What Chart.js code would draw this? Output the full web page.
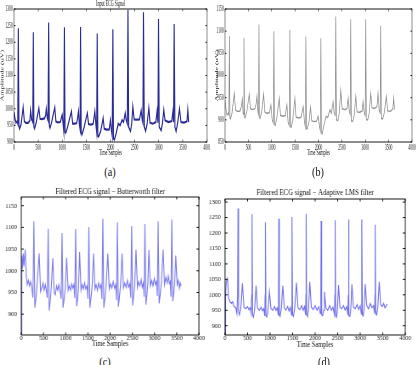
<!DOCTYPE html>
<html>
<head>
<meta charset="utf-8">
<script src="https://cdn.jsdelivr.net/npm/chart.js@4.4.0/dist/chart.umd.min.js"></script>
<style>
    body { margin: 0; width: 418px; height: 365px; background: #fff; position: relative; overflow: hidden; font-family: "Liberation Serif", serif; }
    canvas { position: absolute; }
    .caption { position: absolute; font-size: 12px; color: #111; white-space: nowrap; transform: translateX(-50%) scaleX(0.85); }
</style>
</head>
<body>
<canvas id="chartA" width="420" height="160" style="left:0;top:0;width:210px;height:160px"></canvas>
<canvas id="chartB" width="420" height="160" style="left:208px;top:0;width:210px;height:160px"></canvas>
<canvas id="chartC" width="247" height="170" style="left:0;top:180px;width:210px;height:170px"></canvas>
<canvas id="chartD" width="247" height="170" style="left:208px;top:180px;width:210px;height:170px"></canvas>
<div class="caption" style="left:110px;top:165px">(a)</div>
<div class="caption" style="left:318px;top:165px">(b)</div>
<div class="caption" style="left:105px;top:355px">(c)</div>
<div class="caption" style="left:324px;top:355px">(d)</div>
<script>
// (a) input ECG signal
const aTime = [0, 18, 40, 62, 78,
    90, 103, 115, 145, 190, 215, 250, 300, 330, 345, 365, 388,
    400, 412, 426, 458, 515, 540, 580, 630, 655, 670, 690, 706,
    718, 731, 745, 778, 845, 868, 900, 960, 985, 1000, 1020, 1033,
    1045, 1058, 1072, 1110, 1190, 1215, 1260, 1300, 1320, 1335, 1355, 1370,
    1380, 1393, 1408, 1445, 1520, 1545, 1590, 1640, 1660, 1675, 1698, 1713,
    1725, 1738, 1754, 1795, 1848, 1870, 1920, 1975, 1998, 2018, 2035,
    2049, 2062, 2082, 2115, 2160, 2200, 2240, 2270, 2305, 2325, 2348,
    2362, 2376, 2415, 2440, 2463, 2490, 2540, 2600, 2636, 2658, 2672,
    2684, 2700, 2727, 2760, 2795, 2820, 2880, 2940, 2965, 2983,
    2995, 3010, 3050, 3075, 3105, 3130, 3200, 3270, 3292, 3308,
    3319, 3335, 3360, 3390, 3430, 3460, 3520, 3585, 3603, 3620];
const aAmp = [990, 972, 958, 962, 955,
    1242, 948, 940, 952, 1005, 962, 957, 958, 965, 995, 968, 960,
    1230, 946, 940, 957, 1002, 970, 969, 971, 980, 1000, 972, 965,
    1259, 950, 942, 958, 1004, 962, 959, 960, 975, 982, 950, 932,
    1245, 930, 927, 945, 992, 955, 955, 957, 975, 992, 952, 938,
    1246, 928, 922, 940, 987, 954, 952, 955, 975, 992, 950, 930,
    1226, 918, 916, 932, 972, 940, 937, 938, 965, 935, 918,
    1239, 910, 907, 925, 955, 950, 966, 960, 987, 966, 955,
    1298, 945, 932, 955, 1007, 968, 967, 968, 995, 966, 958,
    1290, 946, 933, 955, 1003, 958, 955, 960, 993, 958,
    1270, 945, 935, 955, 997, 965, 960, 963, 990, 960,
    1255, 945, 932, 955, 1000, 960, 958, 962, 997, 960];

// (b) same recording, second plot
const bTime = [0, 15, 40, 70, 82,
    93, 105, 118, 150, 199, 225, 260, 320, 350, 370, 388, 398,
    406, 418, 432, 465, 520, 545, 590, 640, 665, 683, 703, 716,
    726, 738, 752, 785, 826, 850, 890, 950, 970, 982, 1010, 1033,
    1046, 1058, 1075, 1110, 1160, 1185, 1240, 1290, 1310, 1324, 1350, 1375,
    1388, 1400, 1418, 1450, 1495, 1520, 1580, 1630, 1655, 1673, 1700, 1718,
    1730, 1743, 1760, 1795, 1830, 1855, 1900, 1960, 1980, 1993, 2020, 2038,
    2050, 2063, 2080, 2110, 2160, 2200, 2245, 2275, 2313, 2335, 2358,
    2370, 2383, 2415, 2445, 2477, 2505, 2560, 2610, 2633, 2660, 2678,
    2690, 2703, 2735, 2765, 2797, 2825, 2885, 2935, 2953, 2980, 2998,
    3010, 3023, 3055, 3085, 3117, 3145, 3200, 3250, 3274, 3300, 3320,
    3331, 3344, 3372, 3405, 3452, 3480, 3540, 3590, 3608, 3625];
const bAmp = [945, 930, 911, 915, 912,
    1089, 904, 902, 915, 960, 922, 919, 920, 930, 947, 915, 912,
    1085, 906, 905, 918, 958, 925, 923, 925, 935, 953, 918, 912,
    1115, 904, 903, 918, 958, 918, 915, 916, 928, 934, 900, 893,
    1100, 890, 887, 905, 949, 910, 908, 910, 925, 934, 895, 887,
    1103, 885, 883, 900, 949, 906, 904, 906, 922, 930, 895, 884,
    1088, 880, 880, 895, 929, 898, 896, 897, 905, 908, 885, 875,
    1084, 870, 868, 885, 908, 905, 923, 915, 941, 915, 910,
    1133, 900, 898, 915, 967, 925, 923, 925, 949, 918, 912,
    1127, 897, 897, 912, 953, 918, 917, 920, 941, 915, 910,
    1127, 900, 900, 915, 960, 927, 926, 930, 960, 920, 915,
    1112, 903, 902, 915, 953, 920, 919, 925, 949, 923];

// (c) Butterworth filtered
const cTime = [0, 12, 25, 45, 60, 88, 115, 135, 160, 185, 210, 235, 262,
    284, 305, 330, 355, 403, 435, 460, 490, 515, 540, 565, 585,
    605, 628, 652, 675, 709, 740, 765, 795, 820, 845, 875, 898,
    918, 940, 965, 990, 1022, 1055, 1080, 1110, 1135, 1160, 1185, 1205,
    1224, 1246, 1270, 1290, 1313, 1345, 1370, 1400, 1425, 1450, 1480, 1502,
    1522, 1545, 1570, 1595, 1627, 1660, 1685, 1715, 1740, 1770, 1795, 1816,
    1836, 1858, 1885, 1910, 1948, 1980, 2010, 2040, 2070, 2100, 2125, 2145,
    2164, 2186, 2210, 2235, 2269, 2300, 2330, 2360, 2390, 2415, 2445, 2465,
    2485, 2507, 2530, 2555, 2582, 2615, 2640, 2670, 2700, 2725, 2750, 2765,
    2784, 2806, 2830, 2850, 2873, 2905, 2935, 2965, 2995, 3020, 3045, 3063,
    3082, 3104, 3128, 3155, 3194, 3225, 3255, 3285, 3310, 3335, 3355, 3370,
    3388, 3410, 3432, 3455, 3478, 3510, 3535, 3560, 3580, 3600];
const cAmp = [855, 1035, 1005, 1040, 1010, 1049, 985, 968, 978, 965, 975, 962, 938,
    1114, 915, 935, 968, 1040, 952, 960, 972, 955, 968, 955, 938,
    1097, 908, 930, 962, 1029, 950, 945, 965, 955, 968, 952, 935,
    1087, 915, 935, 960, 1030, 955, 965, 955, 970, 960, 968, 937,
    1096, 918, 935, 965, 1043, 955, 968, 958, 972, 958, 965, 935,
    1101, 915, 938, 965, 1040, 958, 968, 955, 972, 960, 968, 935,
    1120, 915, 938, 965, 1040, 958, 970, 960, 975, 960, 968, 932,
    1112, 917, 940, 968, 1040, 960, 972, 962, 978, 962, 970, 938,
    1103, 920, 942, 970, 1049, 962, 975, 965, 980, 962, 972, 940,
    1108, 922, 945, 972, 1048, 965, 978, 965, 982, 968, 975, 942,
    1114, 925, 945, 975, 1049, 968, 985, 972, 988, 970, 975, 940,
    1118, 930, 948, 975, 1035, 968, 978, 960, 972, 965];

// (d) adaptive LMS filtered
const dTime = [0, 10, 25, 55, 80, 110, 140, 170, 200, 240, 262, 278,
    289, 300, 320, 350, 385, 420, 460, 500, 530, 560, 580, 592,
    600, 612, 630, 655, 689, 720, 760, 800, 830, 860, 882, 890,
    896, 908, 925, 950, 985, 1020, 1060, 1100, 1130, 1160, 1180, 1188,
    1193, 1205, 1222, 1250, 1281, 1315, 1350, 1390, 1420, 1450, 1475, 1483,
    1489, 1500, 1518, 1545, 1585, 1620, 1660, 1700, 1735, 1765, 1788, 1795,
    1800, 1812, 1830, 1855, 1881, 1915, 1960, 2000, 2040, 2080, 2115, 2127,
    2133, 2145, 2165, 2190, 2207, 2240, 2280, 2320, 2360, 2395, 2428, 2438,
    2444, 2456, 2475, 2495, 2519, 2550, 2590, 2630, 2665, 2700, 2728, 2736,
    2741, 2753, 2772, 2792, 2815, 2850, 2890, 2930, 2965, 3000, 3025, 3032,
    3037, 3049, 3068, 3088, 3111, 3145, 3185, 3225, 3260, 3295, 3320, 3328,
    3333, 3345, 3365, 3390, 3422, 3455, 3490, 3520, 3550, 3580, 3600];
const dAmp = [862, 1000, 1040, 1053, 990, 978, 972, 978, 962, 958, 940, 1000,
    1279, 945, 935, 955, 1037, 960, 955, 962, 952, 958, 940, 1000,
    1261, 935, 928, 950, 1030, 958, 950, 960, 948, 955, 932, 1000,
    1235, 932, 928, 945, 1010, 955, 950, 962, 950, 958, 935, 1002,
    1246, 935, 930, 955, 1030, 958, 950, 962, 948, 960, 935, 1000,
    1252, 935, 930, 955, 1040, 958, 952, 965, 950, 962, 935, 1000,
    1262, 935, 930, 955, 1042, 960, 952, 965, 950, 962, 940, 1000,
    1239, 935, 932, 950, 1010, 958, 950, 965, 950, 960, 935, 1000,
    1241, 932, 928, 952, 1032, 960, 955, 965, 950, 962, 935, 1000,
    1244, 932, 930, 955, 1034, 960, 955, 968, 952, 965, 938, 1000,
    1244, 935, 932, 955, 1035, 965, 955, 972, 958, 965, 940, 1000,
    1227, 938, 935, 958, 1042, 968, 962, 972, 958, 965, 970];

const xTickStep = 500;
const yTickStep = 50;

// box with inward tick marks, matlab style
const boxPlugin = {
    id: 'matlabBox',
    afterDraw(chart) {
        const {ctx, chartArea: a, scales} = chart;
        ctx.save();
        ctx.strokeStyle = '#000';
        ctx.lineWidth = 0.9;
        ctx.strokeRect(a.left, a.top, a.right - a.left, a.bottom - a.top);
        ctx.beginPath();
        scales.x.ticks.forEach(t => {
            const px = scales.x.getPixelForValue(t.value);
            ctx.moveTo(px, a.bottom); ctx.lineTo(px, a.bottom - 2.5);
            ctx.moveTo(px, a.top); ctx.lineTo(px, a.top + 2.5);
        });
        scales.y.ticks.forEach(t => {
            const py = scales.y.getPixelForValue(t.value);
            ctx.moveTo(a.left, py); ctx.lineTo(a.left + 3, py);
            ctx.moveTo(a.right, py); ctx.lineTo(a.right - 3, py);
        });
        ctx.stroke();
        ctx.restore();
    }
};

function toPoints(xs, ys) {
    return xs.map((x, i) => ({x: x, y: ys[i]}));
}

function buildChart(id, xs, ys, cfg) {
    const ctx = document.getElementById(id).getContext('2d');
    return new Chart(ctx, {
        type: 'line',
        data: {
            datasets: [{
                data: toPoints(xs, ys),
                borderColor: cfg.color,
                borderWidth: cfg.lineWidth,
                pointRadius: 0,
                tension: 0,
                fill: false
            }]
        },
        options: {
            responsive: false,
            animation: false,
            devicePixelRatio: 1,
            layout: { padding: { top: cfg.padTop, right: cfg.padRight, left: 0, bottom: 0 } },
            plugins: {
                legend: { display: false },
                tooltip: { enabled: false },
                title: {
                    display: !!cfg.title,
                    text: cfg.title || '',
                    fullSize: false,
                    color: '#111',
                    font: { family: 'Liberation Serif', size: cfg.titleSize, weight: 'normal', lineHeight: cfg.titleLh },
                    padding: cfg.titlePad
                }
            },
            scales: {
                x: {
                    type: 'linear',
                    min: 0,
                    max: 4000,
                    grid: { display: false, drawTicks: false },
                    border: { display: false },
                    ticks: {
                        stepSize: xTickStep,
                        maxRotation: 0,
                        autoSkip: false,
                        padding: cfg.xTickPad,
                        color: '#222',
                        font: { family: 'Liberation Serif', size: cfg.tickSize, lineHeight: 1 },
                        callback: v => String(v)
                    },
                    title: {
                        display: true,
                        text: 'Time Samples',
                        color: '#111',
                        font: { family: 'Liberation Serif', size: cfg.axisTitleSize },
                        padding: { top: 0, bottom: cfg.xTitlePad }
                    },
                    afterFit: s => { s.height = cfg.bottomBox; s.paddingLeft = 0; s.paddingRight = 0; }
                },
                y: {
                    min: cfg.yMin,
                    max: cfg.yMax,
                    grid: { display: false, drawTicks: false },
                    border: { display: false },
                    ticks: {
                        stepSize: yTickStep,
                        includeBounds: false,
                        padding: cfg.yTickPad,
                        color: '#222',
                        font: { family: 'Liberation Serif', size: cfg.tickSize },
                        callback: v => String(v)
                    },
                    title: {
                        display: !!cfg.yTitle,
                        text: cfg.yTitle || '',
                        color: '#111',
                        font: { family: 'Liberation Serif', size: cfg.axisTitleSize },
                        padding: { top: cfg.yTitlePad, bottom: 0 }
                    },
                    afterFit: s => { s.width = cfg.leftBox; s.paddingTop = 0; s.paddingBottom = 0; }
                }
            }
        },
        plugins: [boxPlugin]
    });
}

// top row canvases are drawn twice as wide and squeezed, like the source figure
buildChart('chartA', aTime, aAmp, {
    color: '#2b2b96', lineWidth: 2.2,
    padTop: 0, padRight: 6, leftBox: 28, bottomBox: 18,
    yMin: 900, yMax: 1300,
    title: 'Input ECG Signal', titleSize: 8, titleLh: 1, titlePad: { top: 0, bottom: 1 },
    tickSize: 7.5, xTickPad: 2, yTickPad: 2.5,
    axisTitleSize: 8, xTitlePad: 2, yTitle: 'Amplitude (uV)', yTitlePad: 0
});

buildChart('chartB', bTime, bAmp, {
    color: '#8c8c8c', lineWidth: 1.4,
    padTop: 9, padRight: 12, leftBox: 34, bottomBox: 18,
    yMin: 850, yMax: 1150,
    title: '', titleSize: 8, titleLh: 1, titlePad: 0,
    tickSize: 7.5, xTickPad: 2, yTickPad: 2.5,
    axisTitleSize: 8, xTitlePad: 2, yTitle: 'Amplitude (uV)', yTitlePad: 13
});

buildChart('chartC', cTime, cAmp, {
    color: '#7b7bef', lineWidth: 1.1,
    padTop: 0, padRight: 13, leftBox: 25, bottomBox: 15,
    yMin: 852, yMax: 1170,
    title: 'Filtered ECG signal \u2212 Butterworth filter', titleSize: 8, titleLh: 1.2, titlePad: { top: 7, bottom: 0.4 },
    tickSize: 7, xTickPad: 0, yTickPad: 5,
    axisTitleSize: 7.5, xTitlePad: 1, yTitle: '', yTitlePad: 0
});

buildChart('chartD', dTime, dAmp, {
    color: '#7070ea', lineWidth: 1.1,
    padTop: 0, padRight: 15, leftBox: 20, bottomBox: 15,
    yMin: 870, yMax: 1310,
    title: 'Filtered ECG signal \u2212 Adaptive LMS filter', titleSize: 8, titleLh: 1.2, titlePad: { top: 8, bottom: 1.4 },
    tickSize: 7, xTickPad: 0, yTickPad: 5,
    axisTitleSize: 7.5, xTitlePad: 0.5, yTitle: '', yTitlePad: 0
});
</script>
</body>
</html>
